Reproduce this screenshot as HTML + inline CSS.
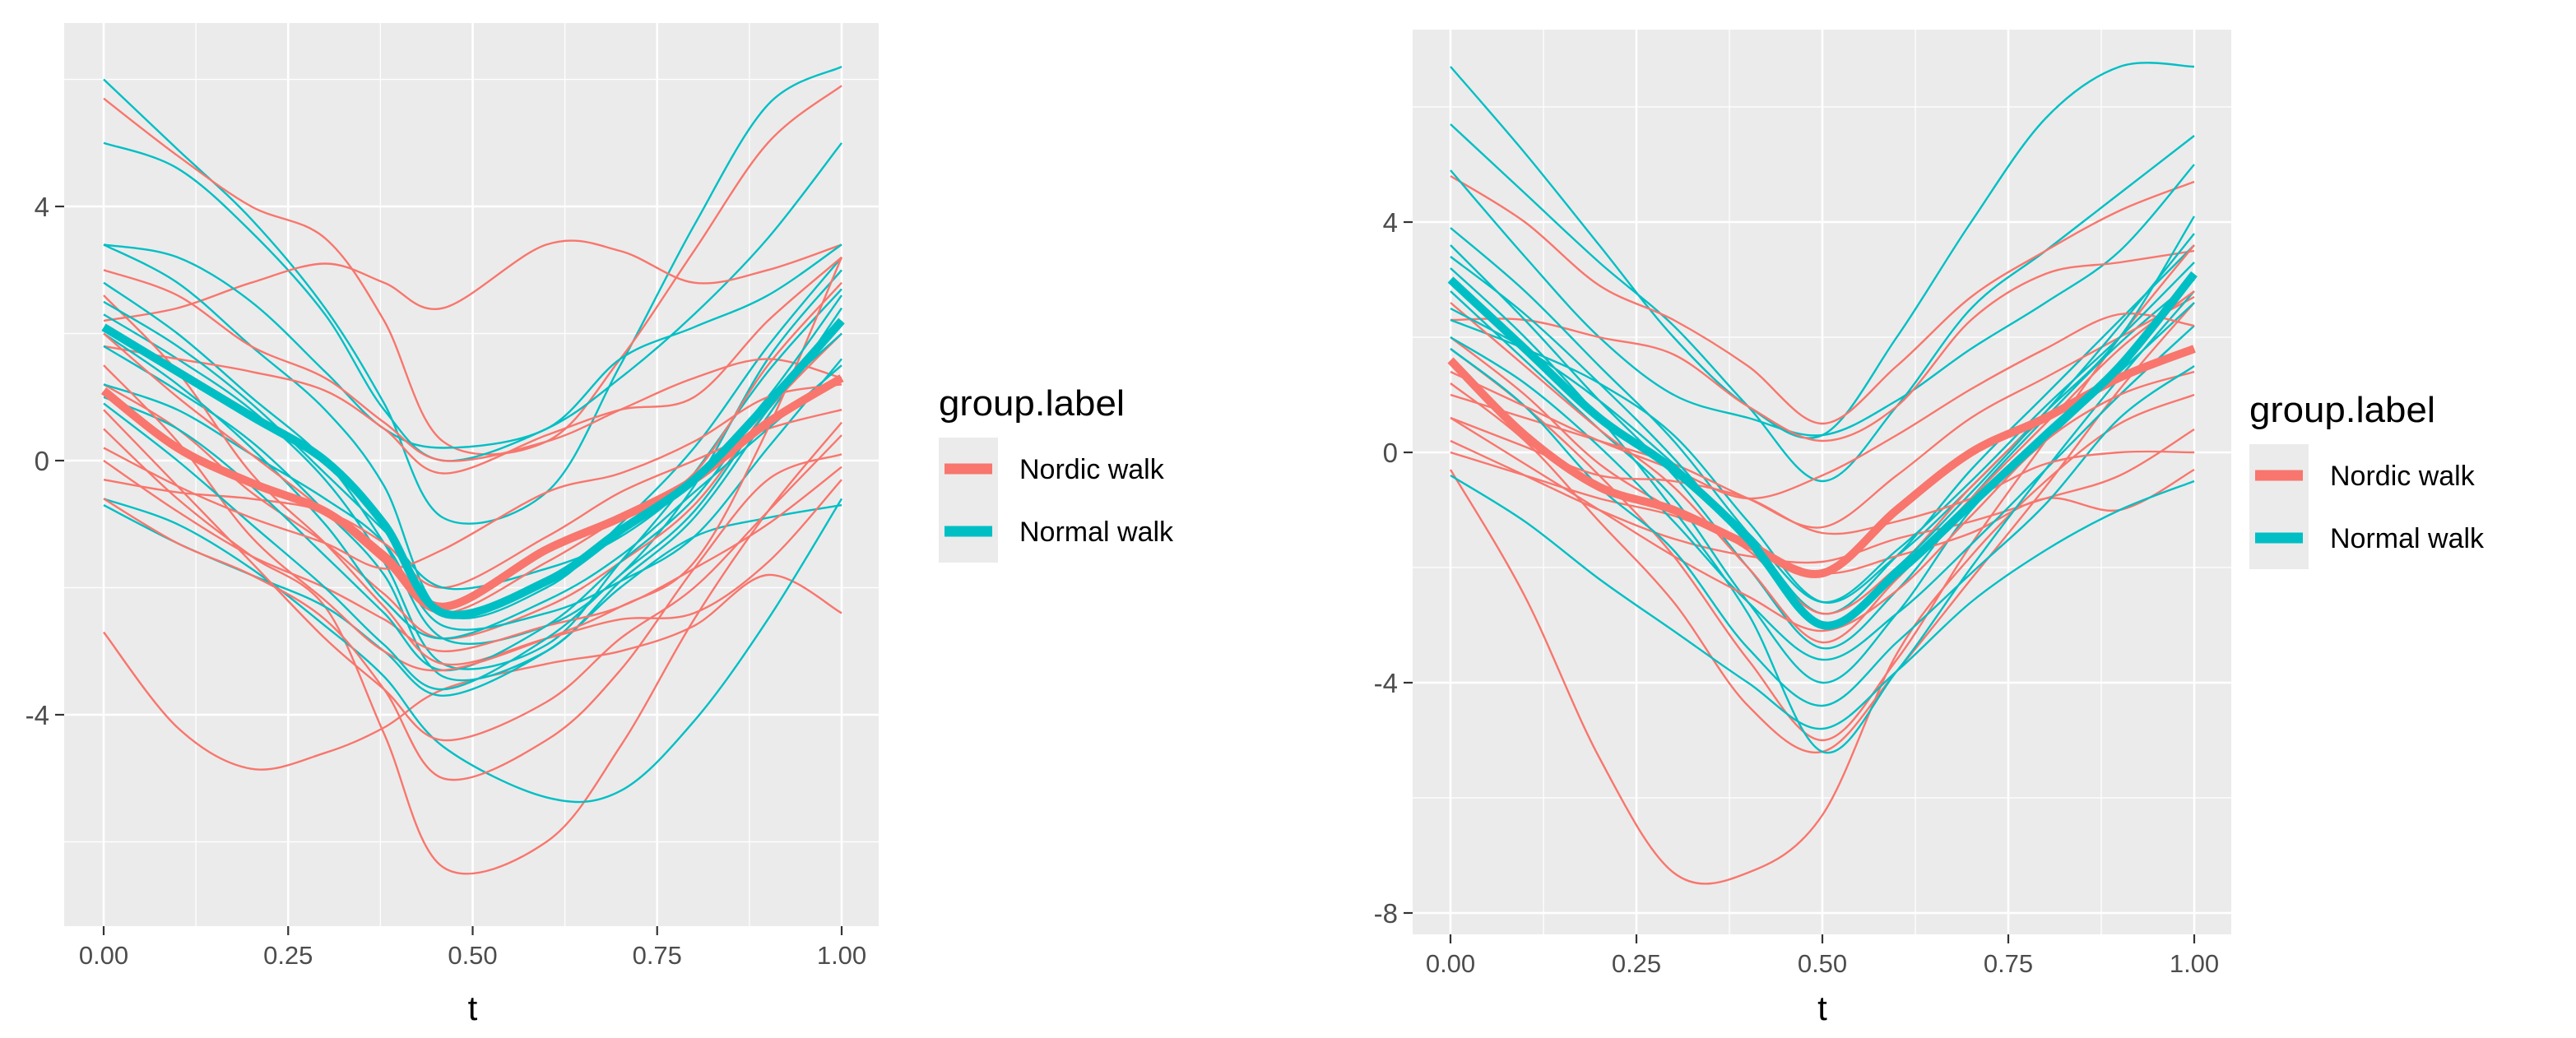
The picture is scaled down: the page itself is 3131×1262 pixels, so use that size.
<!DOCTYPE html>
<html><head><meta charset="utf-8"><style>
body{margin:0;background:#fff;}
svg{display:block;font-family:"Liberation Sans",Arial,sans-serif;}
</style></head><body>
<svg id="fig" width="3131" height="1262" viewBox="0 0 3131 1262"></svg>
<script>
const leftTGrid=[0,0.1,0.2,0.3,0.38,0.46,0.6,0.7,0.8,0.9,1.0];
const rightTGrid=[0,0.1,0.2,0.3,0.4,0.5,0.6,0.7,0.8,0.9,1.0];
const xTicks=[0,0.25,0.5,0.75,1];
const xTickLabels=["0.00","0.25","0.50","0.75","1.00"];
const leftYTicks=[4,0,-4];
const rightYTicks=[4,0,-4,-8];
const legendLabels=["Nordic walk","Normal walk"];
const leftNordicMean=[1.1,0.2,-0.35,-0.8,-1.5,-2.3,-1.4,-0.9,-0.3,0.6,1.3];
const leftNormalMean=[2.1,1.4,0.7,0.0,-1.0,-2.4,-1.9,-1.1,-0.3,0.9,2.2];
const leftNordic=[
[5.7,4.8,4.0,3.5,2.2,0.3,0.3,1.6,3.3,5.0,5.9],
[2.2,2.4,2.8,3.1,2.8,2.4,3.4,3.3,2.8,3.0,3.4],
[-2.7,-4.2,-4.85,-4.6,-4.2,-3.6,-3.2,-3.0,-2.6,-1.8,-2.4],
[0.5,-0.6,-1.5,-2.3,-4.3,-6.4,-6.0,-4.5,-2.5,-0.8,0.6],
[3.0,2.6,1.8,1.3,0.6,0.0,0.3,0.8,1.3,1.6,1.3],
[1.8,1.6,1.4,1.1,0.5,-0.2,0.4,0.8,1.0,2.2,3.2],
[1.2,0.5,-0.5,-1.3,-2.1,-2.8,-2.3,-1.6,-0.7,0.8,2.0],
[-0.3,-0.5,-0.6,-0.8,-1.3,-2.0,-1.2,-0.5,0.0,0.5,0.8],
[0.0,-0.8,-1.5,-2.0,-2.5,-3.0,-2.6,-2.3,-1.7,-1.0,-0.1],
[2.6,1.4,-0.2,-1.3,-2.3,-3.2,-2.8,-2.5,-2.4,-1.6,-0.3],
[0.8,-0.4,-1.6,-2.8,-3.6,-4.4,-3.8,-2.8,-2.0,-0.8,0.4],
[1.5,0.3,-1.2,-2.2,-3.0,-3.3,-2.8,-2.3,-1.6,0.5,3.2],
[-0.6,-1.3,-1.8,-2.5,-3.6,-5.0,-4.4,-3.3,-1.7,-0.3,0.1],
[2.0,1.0,0.1,-0.8,-1.6,-2.4,-1.6,-0.9,-0.2,1.5,2.8],
[0.2,-0.4,-0.9,-1.3,-1.7,-1.4,-0.5,-0.2,0.3,1.0,1.2]];
const leftNormal=[
[6.0,4.9,3.8,2.4,0.9,-0.9,-0.5,1.5,3.7,5.6,6.2],
[5.0,4.6,3.6,2.3,0.8,0.0,0.5,1.3,2.3,3.5,5.0],
[3.4,3.2,2.5,1.4,0.5,0.2,0.5,1.6,2.1,2.6,3.4],
[3.4,2.8,1.8,0.8,-0.4,-2.4,-2.0,-1.0,0.2,1.8,3.2],
[2.8,2.0,1.0,0.0,-1.3,-2.8,-2.6,-1.8,-0.4,1.6,3.0],
[2.3,1.6,0.8,-0.3,-1.6,-3.2,-2.9,-1.6,-0.2,1.4,2.7],
[1.8,1.1,0.3,-0.8,-1.8,-3.4,-3.0,-1.9,-0.9,0.7,2.4],
[1.2,0.8,0.1,-0.6,-1.3,-2.6,-2.4,-1.9,-1.2,0.2,1.6],
[-0.7,-1.3,-1.8,-2.3,-3.0,-3.7,-3.0,-2.0,-1.2,-0.9,-0.7],
[-0.6,-1.0,-1.7,-2.6,-3.4,-4.5,-5.3,-5.2,-4.1,-2.5,-0.6],
[1.0,0.5,-0.4,-1.5,-2.4,-3.3,-2.6,-1.6,-0.6,0.9,2.0],
[2.0,1.2,0.2,-1.0,-2.2,-2.8,-2.2,-1.5,-0.5,0.5,1.5],
[0.9,0.0,-1.0,-2.0,-2.9,-3.6,-2.8,-1.8,-0.8,0.8,2.2],
[2.5,1.8,0.9,-0.2,-1.1,-2.0,-1.7,-1.2,-0.3,1.0,2.6]];
const rightNordicMean=[1.6,0.3,-0.6,-1.0,-1.6,-2.1,-1.0,0.0,0.6,1.3,1.8];
const rightNormalMean=[3.0,1.8,0.6,-0.3,-1.5,-3.0,-2.1,-0.9,0.3,1.5,3.1];
const rightNordic=[
[-0.3,-2.5,-5.3,-7.3,-7.3,-6.3,-3.5,-1.8,-0.5,0.5,1.0],
[4.8,4.0,2.9,2.3,1.5,0.5,1.5,2.7,3.5,4.2,4.7],
[2.3,2.3,2.0,1.7,0.8,0.2,0.8,2.3,3.1,3.3,3.5],
[1.8,0.8,-0.4,-1.8,-3.6,-5.0,-3.6,-1.6,0.2,2.0,3.6],
[1.2,0.2,-1.2,-2.6,-4.4,-5.2,-3.8,-2.2,-0.6,1.1,2.6],
[0.2,-0.4,-1.0,-1.5,-1.8,-1.9,-1.5,-1.2,-0.8,-0.4,0.4],
[0.0,-0.4,-0.8,-1.1,-1.6,-2.1,-1.8,-1.4,-0.8,-1.0,-0.3],
[1.0,0.6,0.2,-0.2,-0.8,-1.3,-0.4,0.6,1.3,2.0,2.7],
[2.0,1.0,-0.2,-1.0,-1.7,-2.8,-2.0,-0.6,0.6,1.3,1.8],
[0.6,-0.2,-1.0,-1.8,-2.5,-3.1,-2.4,-1.1,0.2,1.0,1.4],
[1.4,0.8,0.2,-0.3,-0.8,-0.4,0.3,1.1,1.8,2.4,2.2],
[2.6,1.5,0.4,-0.6,-2.0,-3.3,-2.2,-0.8,0.5,1.8,2.8],
[0.6,0.1,-0.4,-0.5,-0.8,-1.4,-1.2,-0.8,-0.2,0.0,0.0]];
const rightNormal=[
[6.7,5.2,3.6,2.0,0.8,0.3,2.0,4.0,5.8,6.7,6.7],
[5.7,4.5,3.3,2.2,0.8,-0.5,0.8,2.5,3.5,4.5,5.5],
[4.9,3.4,2.0,1.0,0.6,0.3,0.9,1.8,2.6,3.5,5.0],
[3.9,2.8,1.5,0.2,-1.4,-2.8,-1.8,-0.3,1.0,2.3,3.6],
[3.6,2.3,0.9,-0.4,-2.0,-3.4,-2.4,-0.8,0.6,1.9,3.0],
[2.3,1.8,1.2,0.3,-1.2,-2.6,-1.8,-0.6,0.7,2.0,4.1],
[2.8,1.6,0.4,-0.8,-2.6,-4.0,-2.8,-1.0,0.2,1.4,2.6],
[-0.4,-1.2,-2.2,-3.1,-4.0,-4.8,-3.8,-2.6,-1.7,-1.0,-0.5],
[3.2,2.0,0.6,-1.0,-2.8,-5.2,-3.8,-2.0,-0.3,1.3,2.8],
[2.0,1.2,0.1,-1.2,-2.6,-3.6,-2.8,-1.6,-0.3,1.0,2.2],
[1.8,0.8,-0.6,-1.7,-3.4,-4.4,-3.3,-2.1,-0.9,0.6,1.5],
[3.4,2.4,1.2,-0.1,-1.6,-3.0,-2.0,-0.7,0.7,2.2,3.8],
[2.5,1.8,0.9,-0.2,-1.4,-2.6,-1.7,-0.5,0.8,2.0,3.3]];

const NS="http://www.w3.org/2000/svg";
const svg=document.getElementById('fig');
const RED="#F8766D", TEAL="#00BFC4";
function mk(tag,attrs,parent){const e=document.createElementNS(NS,tag);for(const k in attrs)e.setAttribute(k,attrs[k]);(parent||svg).appendChild(e);return e;}
function smoothPath(pts){let d="M"+pts[0][0].toFixed(1)+","+pts[0][1].toFixed(1);
 for(let i=0;i<pts.length-1;i++){const p0=pts[Math.max(0,i-1)],p1=pts[i],p2=pts[i+1],p3=pts[Math.min(pts.length-1,i+2)];
  const c1=[p1[0]+(p2[0]-p0[0])/6,p1[1]+(p2[1]-p0[1])/6],c2=[p2[0]-(p3[0]-p1[0])/6,p2[1]-(p3[1]-p1[1])/6];
  d+=" C"+c1[0].toFixed(1)+","+c1[1].toFixed(1)+" "+c2[0].toFixed(1)+","+c2[1].toFixed(1)+" "+p2[0].toFixed(1)+","+p2[1].toFixed(1);}
 return d;}

function panel(cfg){
 const g=mk('g',{});
 
 
 const X=v=>cfg.x0+(cfg.x1-cfg.x0)*v;
 const Y=v=>cfg.y0-(cfg.y0-cfg.y4)*v/4;
 const bg=mk('rect',{x:cfg.L,y:cfg.T,width:cfg.R-cfg.L,height:cfg.B-cfg.T,fill:"#EBEBEB"},g);
 
 
 cfg.yMinor.forEach(v=>{const y=Y(v);if(y>cfg.T&&y<cfg.B){const l=mk('line',{x1:cfg.L,x2:cfg.R,y1:y,y2:y,stroke:"#fff","stroke-width":1.3},g);}});
 [0.125,0.375,0.625,0.875].forEach(v=>{const x=X(v);const l=mk('line',{x1:x,x2:x,y1:cfg.T,y2:cfg.B,stroke:"#fff","stroke-width":1.3},g);});
 cfg.yTicks.forEach(v=>{const y=Y(v);const l=mk('line',{x1:cfg.L,x2:cfg.R,y1:y,y2:y,stroke:"#fff","stroke-width":2.6},g);
  const tk=mk('line',{x1:cfg.L-11,x2:cfg.L,y1:y,y2:y,stroke:"#333","stroke-width":2.2},g);
  const tx=mk('text',{x:cfg.L-18,y:y+12,"text-anchor":"end","font-size":33,fill:"#4D4D4D"},g);tx.textContent=String(v);});
 xTicks.forEach((v,i)=>{const x=X(v);const l=mk('line',{x1:x,x2:x,y1:cfg.T,y2:cfg.B,stroke:"#fff","stroke-width":2.6},g);
  const tk=mk('line',{x1:x,x2:x,y1:cfg.B,y2:cfg.B+11,stroke:"#333","stroke-width":2.2},g);
  const tx=mk('text',{x:x,y:cfg.B+46,"text-anchor":"middle","font-size":31,fill:"#4D4D4D"},g);tx.textContent=xTickLabels[i];});
 const clip=mk('clipPath',{id:cfg.name+"-clip"},g);mk('rect',{x:cfg.L,y:cfg.T,width:cfg.R-cfg.L,height:cfg.B-cfg.T},clip);
 const lg=mk('g',{"clip-path":"url(#"+cfg.name+"-clip)"},g);
 
 
 const draw=(arr,col,w,name)=>{const p=mk('path',{d:smoothPath(arr.map((v,i)=>[X(cfg.tg[i]),Y(v)])),fill:"none",stroke:col,"stroke-width":w,"stroke-linejoin":"round"},lg);};
 const n=Math.max(cfg.nordic.length,cfg.normal.length);
 for(let i=0;i<n;i++){if(cfg.normal[i])draw(cfg.normal[i],TEAL,2.4,'normal-walk-curve');if(cfg.nordic[i])draw(cfg.nordic[i],RED,2.4,'nordic-walk-curve');}
 draw(cfg.nordicMean,RED,10,'nordic-walk-mean');
 draw(cfg.normalMean,TEAL,10,'normal-walk-mean');
 const at=mk('text',{x:(cfg.x0+cfg.x1)/2,y:1240,"text-anchor":"middle","font-size":42,fill:"#000"},g);at.textContent="t";
 const leg=mk('g',{},g);
 const lt=mk('text',{x:cfg.lx,y:cfg.ly,"font-size":44,fill:"#000",textLength:226,lengthAdjust:"spacingAndGlyphs"},leg);lt.textContent="group.label";
 const kb=mk('rect',{x:cfg.lx,y:cfg.ly+27,width:72,height:152,fill:"#EBEBEB"},leg);
 [RED,TEAL].forEach((c,i)=>{const yy=cfg.ly+65+i*76;
  const kl=mk('line',{x1:cfg.lx+7,x2:cfg.lx+65,y1:yy,y2:yy,stroke:c,"stroke-width":13},leg);
  const tx=mk('text',{x:cfg.lx+98,y:yy+12,"font-size":34,fill:"#000"},leg);tx.textContent=legendLabels[i];});
}
panel({name:'left-panel',tg:leftTGrid,L:78,R:1068,T:28,B:1126,x0:126,x1:1023,y0:560,y4:251,yTicks:leftYTicks,yMinor:[6,2,-2,-6],
 nordic:leftNordic,normal:leftNormal,nordicMean:leftNordicMean,normalMean:leftNormalMean,lx:1141,ly:505});
panel({name:'right-panel',tg:rightTGrid,L:1717,R:2712,T:36,B:1136,x0:1763,x1:2667,y0:550,y4:270,yTicks:rightYTicks,yMinor:[6,2,-2,-6],
 nordic:rightNordic,normal:rightNormal,nordicMean:rightNordicMean,normalMean:rightNormalMean,lx:2734,ly:513});
</script>
</body></html>
